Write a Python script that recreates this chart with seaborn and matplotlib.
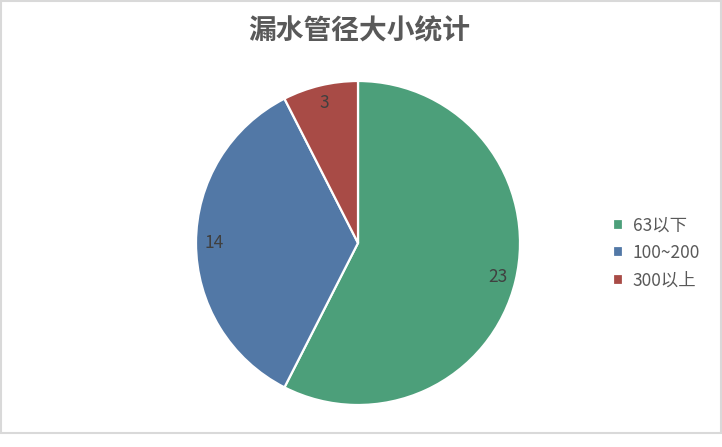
import matplotlib
matplotlib.use("Agg")
import matplotlib.pyplot as plt
import seaborn as sns
from matplotlib.patches import Rectangle

categories = ["63以下", "100~200", "300以上"]
values = [23, 14, 3]
colors = ["#4C9F7A", "#5278A6", "#A84B46"]
title = "漏水管径大小统计"

sns.set_theme(style="white")
plt.rcParams["font.family"] = ["Noto Sans CJK SC", "DejaVu Sans"]

fig = plt.figure(figsize=(7.22, 4.47), dpi=100)
fig.patch.set_facecolor("white")

W, H = 722, 447
cx, cy, r = 358, 243, 162
ax = fig.add_axes([(cx - r) / W, (H - cy - r) / H, 2 * r / W, 2 * r / H])

wedges, texts, autotexts = ax.pie(
    values,
    colors=colors,
    startangle=90,
    counterclock=False,
    autopct=lambda p: f"{round(p * sum(values) / 100):d}",
    pctdistance=0.89,
    wedgeprops=dict(edgecolor="white", linewidth=1.6),
    textprops=dict(color="#404040", fontsize=12.5),
)
ax.set_xlim(-1, 1)
ax.set_ylim(-1, 1)
ax.set_aspect("equal")
ax.axis("off")
for w in wedges:
    w.set_clip_on(False)

fig.text(359 / W, 1 - 31 / H, title, ha="center", va="center",
         fontsize=20, fontweight="bold", color="#595959")

fig.legend(wedges, categories, loc="center left",
           bbox_to_anchor=(597 / W, 1 - 253 / H), frameon=False,
           handlelength=0.6, handleheight=0.6, handletextpad=0.55,
           labelspacing=0.55, fontsize=12.5, labelcolor="#595959")

fig.patches.append(Rectangle((0.5 / W, (H - 433) / H), (W - 1.5) / W, 432.5 / H,
                             transform=fig.transFigure, fill=False,
                             edgecolor="#D9D9D9", linewidth=1.5))

fig.savefig("out.png", dpi=100, facecolor="white")
